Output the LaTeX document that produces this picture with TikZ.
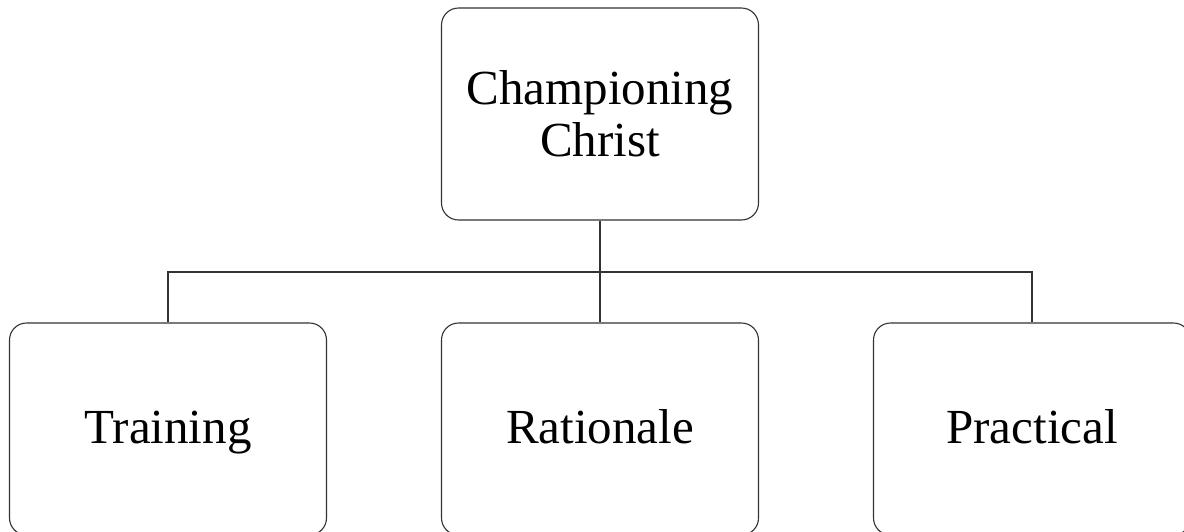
\documentclass[tikz,border=0pt]{standalone}
\usepackage{fontspec}
\setmainfont{Liberation Serif}
\begin{document}
\begin{tikzpicture}[x=1pt,y=-1pt,
  box/.style={draw=black!80, line width=1.1pt, rounded corners=17pt, fill=white,
    minimum width=317pt, minimum height=212pt, inner sep=0pt,
    font=\fontsize{49}{52}\selectfont},
  multi/.style={align=center},
  single/.style={text height=33pt, text depth=5pt},
  link/.style={draw=black!80, line width=1.1pt}]
\useasboundingbox (0,0) rectangle (1184,531);
\clip (0,0) rectangle (1184,531);
\node[box,multi] (top) at (600,114) {Championing\\Christ};
\node[box,single] (training) at (168,429) {Training};
\node[box,single] (rationale) at (600,429) {Rationale};
\node[box,single] (practical) at (1032,429) {Practical};
\coordinate (bus) at (600,272);
\draw[link] (top.south) -- (rationale.north);
\draw[link] (training.north) |- (bus) -| (practical.north);
\end{tikzpicture}
\end{document}
